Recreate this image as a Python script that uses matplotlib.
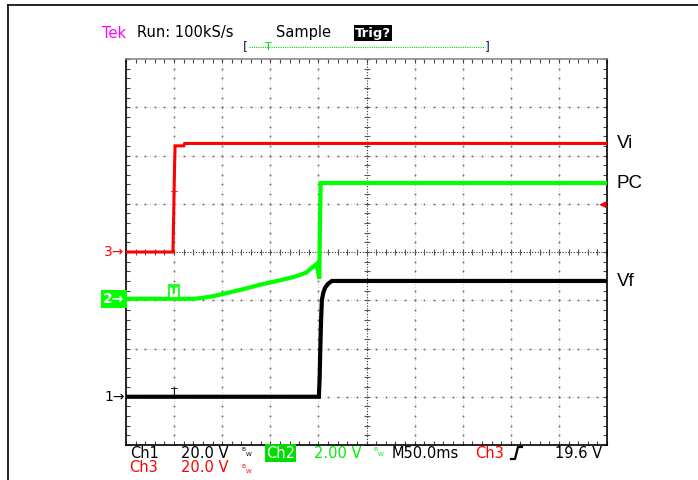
import matplotlib.pyplot as plt
from matplotlib.lines import Line2D
import numpy as np

# horizontal: time in ms (M50.0ms/div, 10 divisions); vertical: screen divisions
t_max = 500
ms_per_div = 50
trig_t = 50
trig_level = 19.6
ch3_scale = 20.0

# Ch3 (red) - Vi
ch3_t = [0, 48.8, 49.6, 50.4, 51.0, 60.0, 61.0, 500]
ch3_v = [0.0, 0.0, 0.8, 1.7, 2.20, 2.20, 2.25, 2.25]

# Ch2 (green) - PC
ch2_t = [0, 70, 80, 92, 105, 122, 139, 157, 174, 187, 198, 199.5, 201.0, 201.6, 202.4, 500]
ch2_v = [-0.97, -0.97, -0.95, -0.91, -0.85, -0.77, -0.68, -0.60, -0.52, -0.43, -0.25, -0.40, -0.55, 0.6, 1.43, 1.43]

# Ch1 (black) - Vf
ch1_t = [0, 200.5, 201.3, 202.0, 202.8, 203.6, 205.0, 207.0, 210.0, 214.0, 500]
ch1_v = [-3.0, -3.0, -2.6, -2.0, -1.4, -1.0, -0.85, -0.74, -0.66, -0.60, -0.60]

gnd = {"1": -3.0, "2": -0.97, "3": 0.0}
labels = ["Vi", "PC", "Vf"]
label_y = [2.25, 1.43, -0.62]

W, H = 698, 480


def fx(x):
    return x / W


def fy(y):
    return 1 - y / H


fig = plt.figure(figsize=(6.98, 4.80), dpi=100)
ax = fig.add_axes([fx(126), fy(445), fx(607) - fx(126), fy(59) - fy(445)])
ax.set_xlim(0, t_max)
ax.set_ylim(-4, 4)

# graticule
minor_x = np.arange(0, t_max + 0.1, ms_per_div / 5)
minor_y = np.arange(-4, 4.01, 0.2)
for xv in np.arange(ms_per_div, t_max, ms_per_div):
    if xv == t_max / 2:
        continue
    ax.axvline(xv, color="#cccccc", lw=0.7, ls=(0, (1, 2)), zorder=1)
    ax.plot(np.full_like(minor_y, xv), minor_y, ls="none", marker="s", ms=1.2,
            color="#666666", mew=0, zorder=1)
for yv in range(-3, 4):
    if yv == 0:
        continue
    ax.axhline(yv, color="#cccccc", lw=0.7, ls=(0, (1, 2)), zorder=1)
    ax.plot(minor_x, np.full_like(minor_x, yv), ls="none", marker="s", ms=1.2,
            color="#666666", mew=0, zorder=1)

# center cross with ticks
ax.axhline(0, color="#333333", lw=0.8, ls=(0, (1, 1.5)), zorder=1)
ax.axvline(t_max / 2, color="#333333", lw=0.8, ls=(0, (1, 1.5)), zorder=1)
ax.plot(minor_x, np.zeros_like(minor_x), ls="none", marker="|", ms=4,
        color="#555555", mew=0.8, zorder=1)
ax.plot(np.full_like(minor_y, t_max / 2), minor_y, ls="none", marker="_", ms=4,
        color="#555555", mew=0.8, zorder=1)

ax.set_xticks(np.arange(0, t_max + 1, ms_per_div))
ax.set_xticks(minor_x, minor=True)
ax.set_yticks(np.arange(-4, 5, 1))
ax.set_yticks(minor_y, minor=True)
ax.tick_params(which="both", direction="in", length=3, width=0.8, color="#444444",
               top=True, right=True, labelbottom=False, labelleft=False)
for s in ax.spines.values():
    s.set_linewidth(1.2)
    s.set_color("black")
ax.spines["top"].set_color("#888888")

# traces
ax.plot(ch3_t, ch3_v, color="#ff0000", lw=2.2, zorder=3, solid_joinstyle="miter")
ax.plot(ch2_t, ch2_v, color="#00ff00", lw=3.0, zorder=3, solid_joinstyle="miter")
ax.plot(ch1_t, ch1_v, color="black", lw=3.0, zorder=4, solid_joinstyle="miter")

# trigger markers
ax.text(trig_t, 1.05, "T", color="#ff0000", fontsize=8, ha="center", va="bottom", zorder=5)
ax.text(trig_t, gnd["2"] + 0.05, "T", color="#00ff00", fontsize=8, fontweight="bold",
        ha="center", va="bottom", zorder=5,
        bbox=dict(boxstyle="square,pad=0.1", fc="white", ec="#00ff00", lw=1.2))
ax.text(trig_t, gnd["1"] - 0.02, "T", color="black", fontsize=8, ha="center", va="bottom", zorder=5)

# trigger level arrow
lvl = trig_level / ch3_scale
ax.annotate("", xy=(489, lvl), xytext=(t_max, lvl),
            arrowprops=dict(arrowstyle="-|>", color="#ff0000", lw=1, mutation_scale=9))

# ground markers
tr = ax.get_yaxis_transform()
ax.text(-0.003, gnd["3"], "3\u2192", color="#ff0000", fontsize=10, ha="right", va="center",
        transform=tr, clip_on=False)
ax.text(-0.003, gnd["2"], "2\u2192", color="white", fontsize=10, fontweight="bold", ha="right",
        va="center", transform=tr, clip_on=False,
        bbox=dict(boxstyle="square,pad=0.15", fc="#00ff00", ec="none"))
ax.text(-0.003, gnd["1"], "1\u2192", color="black", fontsize=10, ha="right", va="center",
        transform=tr, clip_on=False)

# right labels
for lab, yv in zip(labels, label_y):
    ax.text(1.02, yv, lab, fontsize=13.5, family="Liberation Sans", ha="left", va="center",
            transform=tr, clip_on=False)

# header
hf = dict(fontsize=10.5, family="DejaVu Sans", va="center")
fig.text(fx(102), fy(33), "Tek", color="#ff00ff", **hf)
fig.text(fx(137), fy(33), "Run: 100kS/s", color="black", **hf)
fig.text(fx(276), fy(33), "Sample", color="black", **hf)
fig.text(fx(355), fy(33), "Trig?", color="white", fontweight="bold", fontsize=9.5,
         family="DejaVu Sans", va="center",
         bbox=dict(boxstyle="square,pad=0.1", fc="black", ec="none"))
fig.text(fx(243), fy(47), "[", color="#1a1a60", fontsize=9, va="center")
fig.text(fx(485), fy(47), "]", color="#1a1a60", fontsize=9, va="center")
fig.add_artist(Line2D([fx(249), fx(485)], [fy(47), fy(47)], color="#00dd00", lw=0.8,
                      ls=(0, (1, 1))))
fig.text(fx(268), fy(47), "T", color="#00dd00", fontsize=8, ha="center", va="center")

# status line
bf = dict(fontsize=10.5, family="DejaVu Sans", va="center")
r1, r2 = fy(453), fy(467)
fig.text(fx(130), r1, "Ch1", color="black", **bf)
fig.text(fx(181), r1, "20.0 V", color="black", **bf)
fig.text(fx(266), r1, "Ch2", color="white", bbox=dict(boxstyle="square,pad=0.1", fc="#00dd00", ec="none"), **bf)
fig.text(fx(314), r1, "2.00 V", color="#00ee00", **bf)
fig.text(fx(392), r1, "M50.0ms", color="black", **bf)
fig.text(fx(475), r1, "Ch3", color="#ff0000", **bf)
fig.text(fx(555), r1, "19.6 V", color="black", **bf)
fig.text(fx(129), r2, "Ch3", color="#ff0000", **bf)
fig.text(fx(181), r2, "20.0 V", color="#ff0000", **bf)


def bw(x, y, color):
    fig.text(fx(x), fy(y), r"$\mathregular{^B{}_W}$", color=color, fontsize=6, va="center")


bw(241, 452, "black")
bw(373, 452, "#00ee00")
bw(241, 469, "#ff0000")

# rising edge symbol
fig.add_artist(Line2D([fx(511), fx(515), fx(518), fx(522)],
                      [fy(459), fy(459), fy(447), fy(447)], color="black", lw=1.6))

# outer border (left and top)
fig.add_artist(Line2D([fx(8), fx(8)], [fy(5), 0], color="black", lw=1.2))
fig.add_artist(Line2D([fx(8), 1], [fy(5), fy(5)], color="black", lw=1.2))

fig.savefig("out.png", dpi=100)
